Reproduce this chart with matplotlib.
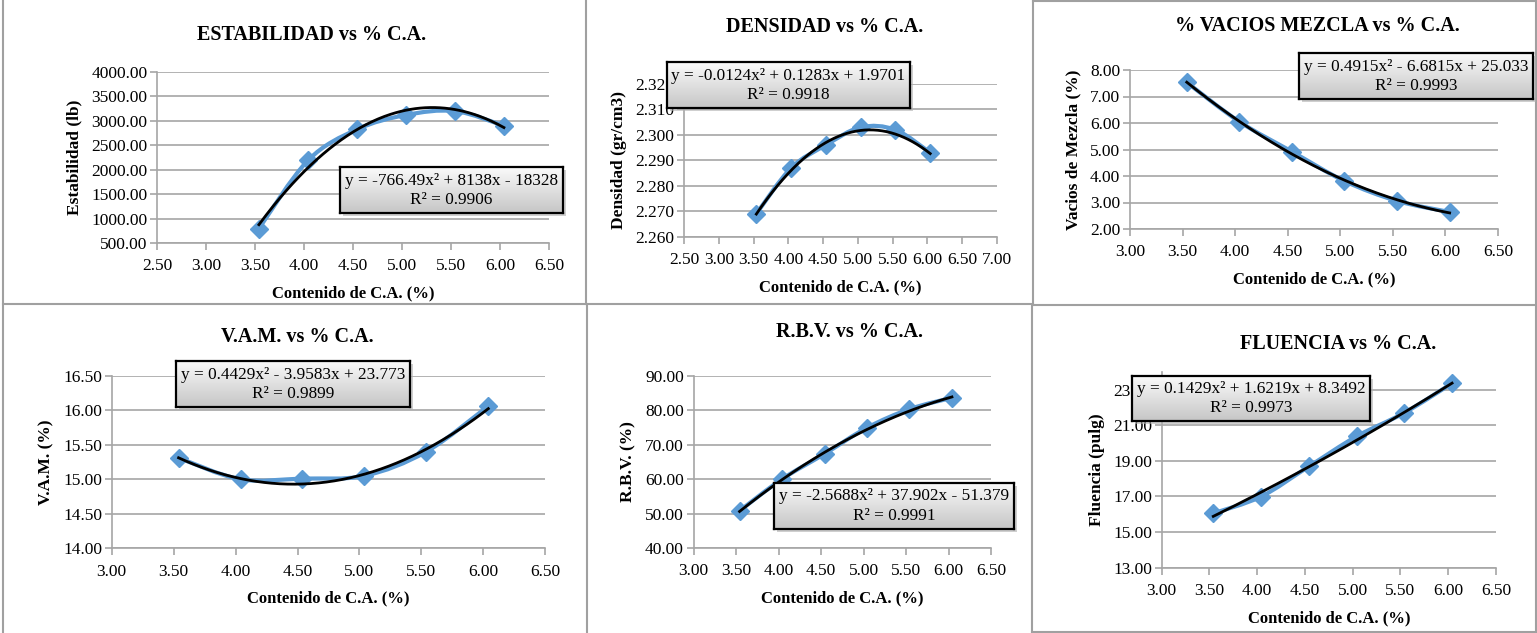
import numpy as np
import matplotlib
matplotlib.use("Agg")
import matplotlib.pyplot as plt
from matplotlib.path import Path
from matplotlib.patches import PathPatch, Rectangle
from matplotlib.lines import Line2D

plt.rcParams['font.family'] = ['Liberation Serif', 'DejaVu Serif']

W, H = 1537, 633
fig = plt.figure(figsize=(W / 100, H / 100), dpi=100)
fig.patch.set_facecolor('white')

# ---------------- data ----------------
ca = [3.54, 4.04, 4.54, 5.04, 5.54, 6.04]

estabilidad = [795, 2190, 2825, 3120, 3200, 2900]
densidad = [2.269, 2.287, 2.296, 2.303, 2.302, 2.293]
vacios = [7.53, 6.05, 4.92, 3.81, 3.06, 2.64]
vam = [15.31, 15.00, 15.01, 15.05, 15.40, 16.06]
rbv = [50.8, 60.0, 67.3, 74.9, 80.3, 83.6]
fluencia = [16.05, 16.99, 18.68, 20.37, 21.69, 23.35]

coef_estabilidad = [-766.49, 8138, -18328]
coef_densidad = [-0.0124, 0.1283, 1.9701]
coef_vacios = [0.4915, -6.6815, 25.033]
coef_vam = [0.4429, -3.9583, 23.773]
coef_rbv = [-2.5688, 37.902, -51.379]
coef_fluencia = [0.1429, 1.6219, 8.3492]

titles = ["ESTABILIDAD vs % C.A.", "DENSIDAD vs % C.A.", "% VACIOS MEZCLA vs % C.A.",
          "V.A.M. vs % C.A.", "R.B.V. vs % C.A.", "FLUENCIA vs % C.A."]
ylabels = ["Estabilidad (lb)", "Densidad (gr/cm3)", "Vacios de Mezcla (%)",
           "V.A.M. (%)", "R.B.V. (%)", "Fluencia (pulg)"]
xlabel = "Contenido de C.A. (%)"
equations = ["y = -766.49x\u00b2 + 8138x - 18328", "y = -0.0124x\u00b2 + 0.1283x + 1.9701",
             "y = 0.4915x\u00b2 - 6.6815x + 25.033", "y = 0.4429x\u00b2 - 3.9583x + 23.773",
             "y = -2.5688x\u00b2 + 37.902x - 51.379", "y = 0.1429x\u00b2 + 1.6219x + 8.3492"]
r2 = ["R\u00b2 = 0.9906", "R\u00b2 = 0.9918", "R\u00b2 = 0.9993",
      "R\u00b2 = 0.9899", "R\u00b2 = 0.9991", "R\u00b2 = 0.9973"]

series = [estabilidad, densidad, vacios, vam, rbv, fluencia]
coefs = [coef_estabilidad, coef_densidad, coef_vacios, coef_vam, coef_rbv, coef_fluencia]

# ---------------- layout (pixels) ----------------
# plot area: left, right, top, bottom
areas = [(157, 549, 72, 243), (684, 997, 84, 236.7), (1130, 1498, 70, 229),
         (111.7, 545.3, 375.7, 548.3), (693.7, 991, 375.7, 548), (1161.7, 1496, 371.7, 567.7)]
xlims = [(2.5, 6.5), (2.5, 7.0), (3.0, 6.5), (3.0, 6.5), (3.0, 6.5), (3.0, 6.5)]
xsteps = [0.5] * 6
ylims = [(500, 4000), (2.26, 2.32), (2.0, 8.0), (14.0, 16.5), (40.0, 90.0), (13.0, 24.0)]
yticks = [np.arange(500, 4001, 500), np.arange(2.26, 2.3201, 0.01), np.arange(2.0, 8.01, 1.0),
          np.arange(14.0, 16.51, 0.5), np.arange(40.0, 90.1, 10.0), np.arange(13.0, 23.1, 2.0)]
yfmts = ["%.2f", "%.3f", "%.2f", "%.2f", "%.2f", "%.2f"]
title_pos = [(312, 35), (825, 27), (1317, 26), (297, 337), (850, 332), (1338, 344)]
boxes = [(340, 563, 167, 213), (667, 910, 62.3, 108.3), (1299, 1533, 52.7, 99.3),
         (176, 410, 361, 407.3), (774.3, 1014, 482.7, 528.7), (1132.3, 1370, 375.7, 420.7)]

GRID = '#a6a6a6'
BLUE = '#5b9bd5'


def fx(px):
    return px / W


def fy(py):
    return 1 - py / H


def smooth_path(xs, ys):
    pts = np.column_stack([xs, ys]).astype(float)
    n = len(pts)
    verts = [pts[0]]
    codes = [Path.MOVETO]
    for i in range(n - 1):
        p0 = pts[i - 1] if i > 0 else pts[i]
        p1 = pts[i]
        p2 = pts[i + 1]
        p3 = pts[i + 2] if i + 2 < n else pts[i + 1]
        c1 = p1 + (p2 - p0) / 6.0
        c2 = p2 - (p3 - p1) / 6.0
        verts += [c1, c2, p2]
        codes += [Path.CURVE4] * 3
    return Path(verts, codes)


grad = np.linspace(0, 1, 64).reshape(-1, 1)
cmap_box = matplotlib.colors.LinearSegmentedColormap.from_list('g', ['#fafafa', '#c6c6c6'])

for i in range(6):
    l, r, t, b = areas[i]
    ax = fig.add_axes([fx(l), fy(b), fx(r - l), (b - t) / H])
    ax.set_xlim(*xlims[i])
    ax.set_ylim(*ylims[i])
    ax.set_xticks(np.arange(xlims[i][0], xlims[i][1] + 1e-9, xsteps[i]))
    ax.set_yticks(yticks[i])
    ax.xaxis.set_major_formatter(matplotlib.ticker.FormatStrFormatter("%.2f"))
    ax.yaxis.set_major_formatter(matplotlib.ticker.FormatStrFormatter(yfmts[i]))
    ax.grid(axis='y', color=GRID, lw=1.2)
    ax.set_axisbelow(True)
    for s in ['top', 'right']:
        ax.spines[s].set_visible(False)
    for s in ['left', 'bottom']:
        ax.spines[s].set_color(GRID)
        ax.spines[s].set_linewidth(1.2)
    ax.tick_params(axis='both', direction='out', length=5, width=1.2, color=GRID,
                   labelsize=12.5, pad=2)
    ax.tick_params(axis='x', pad=6)

    xs = np.array(ca)
    ys = np.array(series[i])
    ax.add_patch(PathPatch(smooth_path(xs, ys), fill=False, edgecolor=BLUE, lw=3.0, zorder=3))
    ax.plot(xs, ys, linestyle='none', marker='D', ms=9.5, color=BLUE, zorder=4)
    xt = np.linspace(xs.min(), xs.max(), 200)
    ax.plot(xt, np.polyval(coefs[i], xt), color='black', lw=2.0, zorder=5)

    ax.set_xlabel(xlabel, fontsize=12, fontweight='bold', labelpad=8)
    ax.set_ylabel(ylabels[i], fontsize=12.5, fontweight='bold', labelpad=6)

    tx, ty = title_pos[i]
    fig.text(fx(tx), fy(ty), titles[i], fontsize=14.5, fontweight='bold',
             ha='center', va='center')

    # equation box
    bl, br, bt, bb = boxes[i]
    shadow = Rectangle((fx(bl + 3), fy(bb + 3)), fx(br - bl), (bb - bt) / H,
                       transform=fig.transFigure, facecolor='#b0b0b0', edgecolor='none',
                       alpha=0.6, zorder=9)
    fig.add_artist(shadow)
    bax = fig.add_axes([fx(bl), fy(bb), fx(br - bl), (bb - bt) / H], zorder=10)
    bax.imshow(grad, aspect='auto', cmap=cmap_box, extent=(0, 1, 0, 1), origin='upper')
    bax.set_xlim(0, 1)
    bax.set_ylim(0, 1)
    bax.set_xticks([])
    bax.set_yticks([])
    for s in bax.spines.values():
        s.set_color('black')
        s.set_linewidth(1.6)
    bax.text(0.5, 0.70, equations[i], fontsize=12.4, ha='center', va='center')
    bax.text(0.5, 0.28, r2[i], fontsize=12.4, ha='center', va='center')

# cell borders
BC = '#a0a0a0'
def hline(y, x0, x1):
    fig.add_artist(Line2D([fx(x0), fx(x1)], [fy(y), fy(y)], color=BC, lw=1.5, transform=fig.transFigure))
def vline(x, y0, y1):
    fig.add_artist(Line2D([fx(x), fx(x)], [fy(y0), fy(y1)], color=BC, lw=1.5, transform=fig.transFigure))

vline(3, 0, 633)
vline(585.5, 0, 304)
vline(586.5, 304, 633)
vline(1033, 0, 305)
vline(1032, 305, 633)
vline(1535.5, 0, 633)
hline(303.5, 3, 1033)
hline(304.5, 1033, 1536)
hline(0.8, 1033, 1536)
hline(632, 1032, 1536)

fig.savefig("out.png", dpi=100, facecolor='white')
